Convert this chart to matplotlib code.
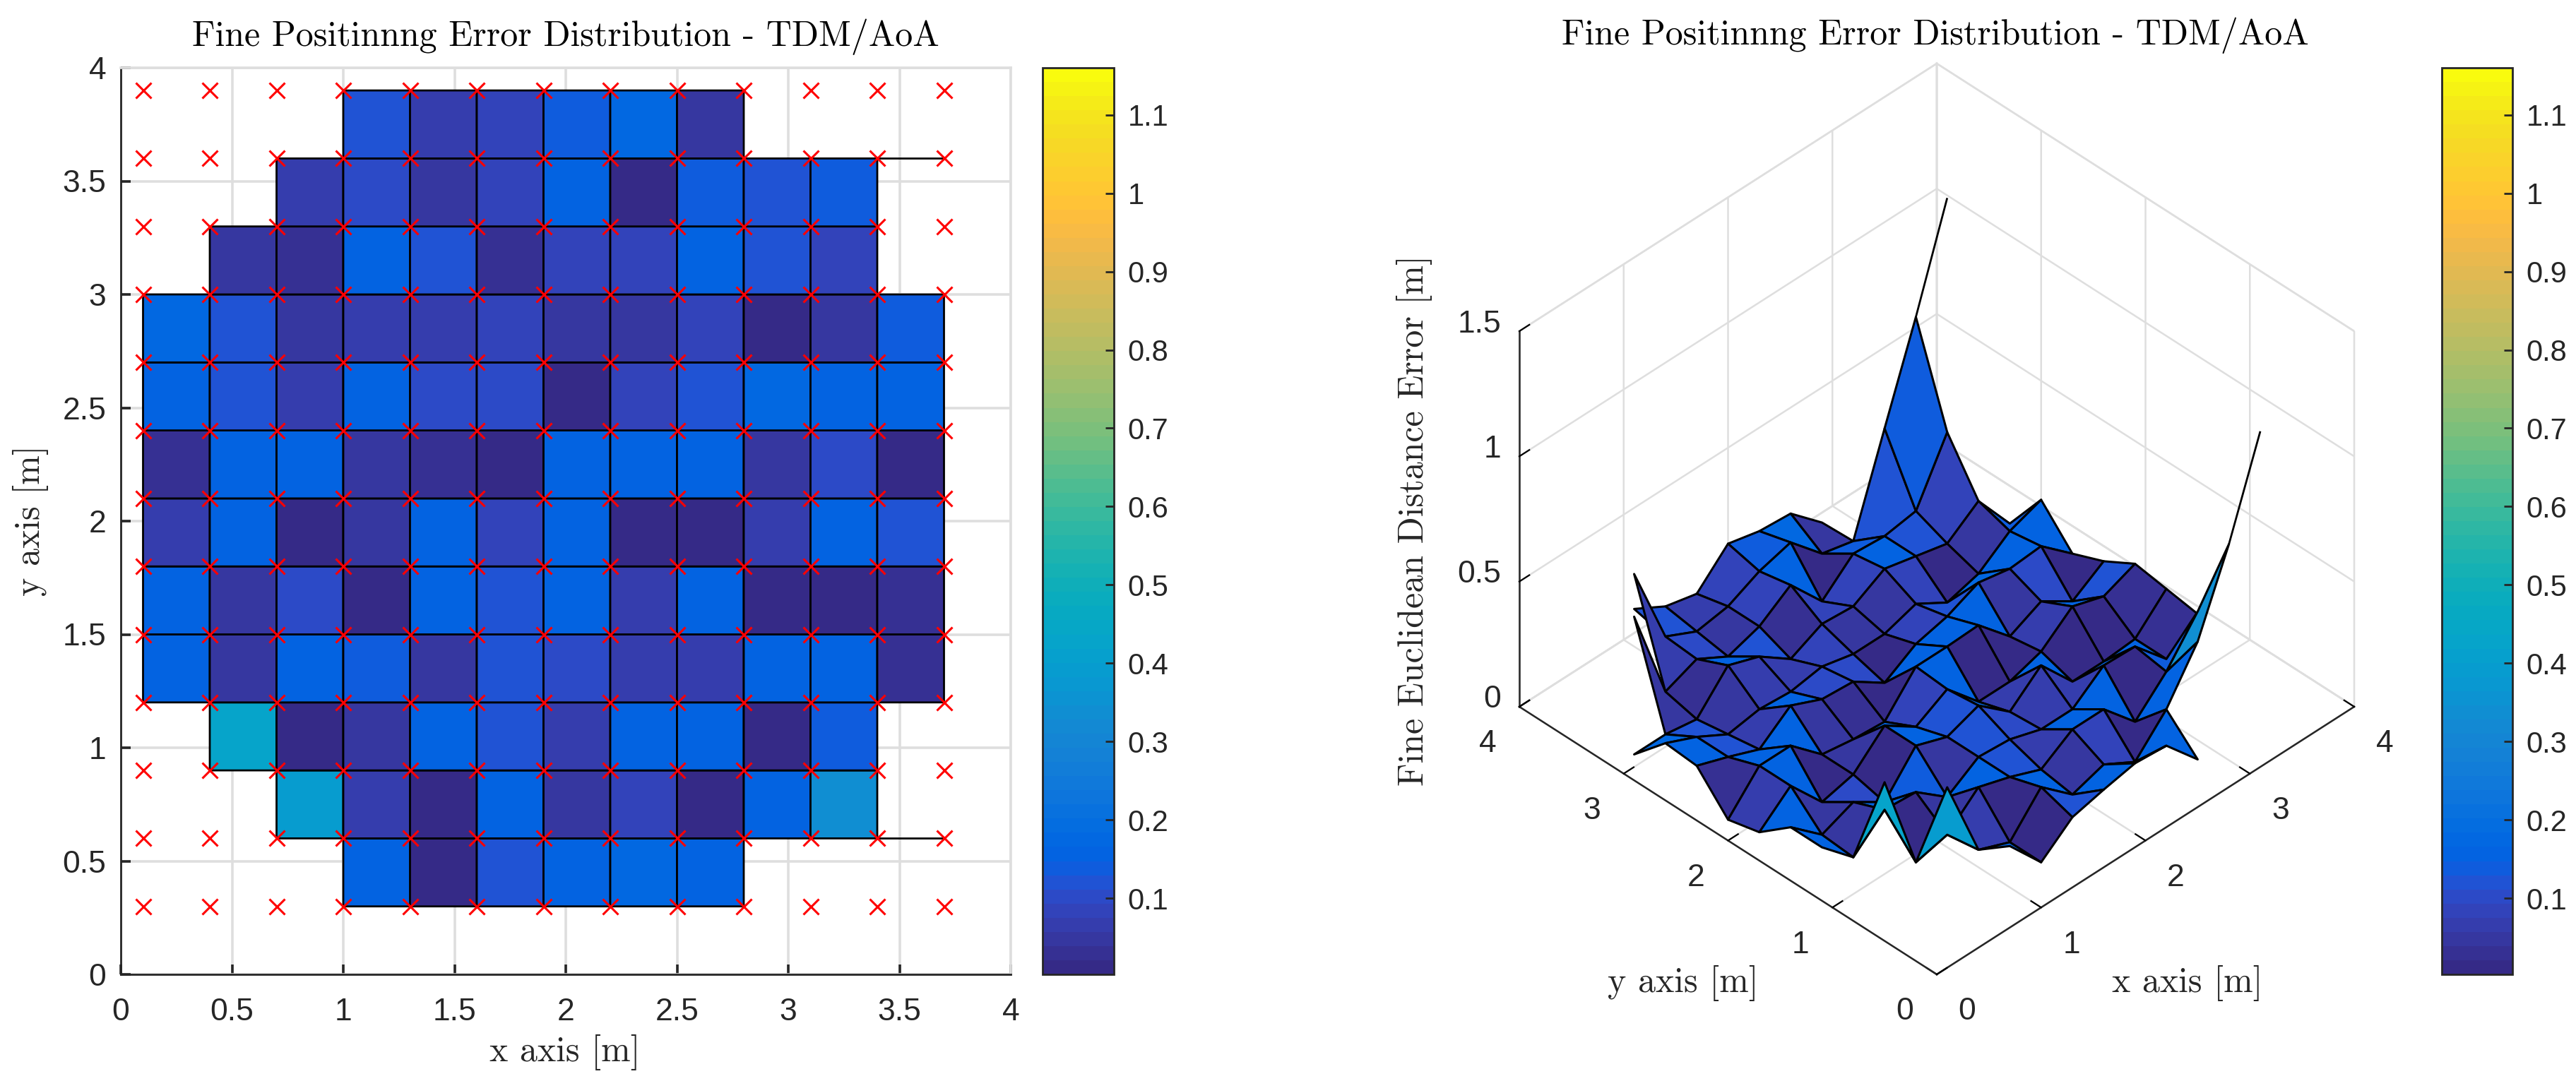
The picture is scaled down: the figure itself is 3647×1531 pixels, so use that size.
import numpy as np
import matplotlib
matplotlib.use('Agg')
import matplotlib.pyplot as plt
from matplotlib.colors import ListedColormap, Normalize
from matplotlib.cm import ScalarMappable
from mpl_toolkits.mplot3d import proj3d
from mpl_toolkits.mplot3d.art3d import Poly3DCollection, Line3DCollection

plt.rcParams['font.family'] = ['Liberation Sans', 'DejaVu Sans']
plt.rcParams['axes.formatter.use_mathtext'] = True

W, H = 3647, 1531
DARK = '#262626'
GRID = '#dedede'
n = np.nan

# measurement points
x_grid = [0.1, 0.4, 0.7, 1.0, 1.3, 1.6, 1.9, 2.2, 2.5, 2.8, 3.1, 3.4, 3.7]
y_grid = [0.3, 0.6, 0.9, 1.2, 1.5, 1.8, 2.1, 2.4, 2.7, 3.0, 3.3, 3.6, 3.9]

# error per point, one row per y_grid value
err_y03 = [n, n, n, .165, .02, .12, .15, .175, .165, .03, n, n, n]
err_y06 = [n, n, .40, .07, .02, .16, .05, .09, .02, .15, .34, .65, 1.02]
err_y09 = [n, .42, .02, .05, .16, .12, .07, .15, .15, .02, .14, .30, n]
err_y12 = [.16, .04, .15, .14, .04, .12, .11, .07, .07, .165, .16, .03, .13]
err_y15 = [.16, .05, .10, .02, .165, .12, .165, .06, .165, .02, .02, .03, .15]
err_y18 = [.06, .165, .02, .05, .165, .08, .15, .02, .02, .06, .16, .12, .17]
err_y21 = [.03, .165, .165, .05, .03, .02, .16, .16, .165, .04, .10, .02, .10]
err_y24 = [.165, .12, .07, .165, .11, .10, .015, .09, .12, .175, .15, .16, .05]
err_y27 = [.175, .12, .05, .07, .06, .08, .05, .05, .09, .015, .05, .14, .185]
err_y30 = [.05, .05, .03, .165, .12, .03, .09, .08, .15, .12, .09, .18, .01]
err_y33 = [n, .44, .06, .11, .04, .08, .165, .02, .13, .12, .14, .375, n]
err_y36 = [n, n, .45, .12, .06, .08, .14, .175, .05, .02, .39, .755, 1.15]
err_y39 = [n, n, n, .15, .08, .05, .17, .14, .13, .014, n, n, n]

clim = (0.003, 1.16)
xy_ticks = [0, 0.5, 1, 1.5, 2, 2.5, 3, 3.5, 4]
xy_ticklabels = ['0', '0.5', '1', '1.5', '2', '2.5', '3', '3.5', '4']
cbar_ticks = [0.1, 0.2, 0.3, 0.4, 0.5, 0.6, 0.7, 0.8, 0.9, 1, 1.1]
cbar_ticklabels = ['0.1', '0.2', '0.3', '0.4', '0.5', '0.6', '0.7', '0.8', '0.9', '1', '1.1']
floor_ticks = [0, 1, 2, 3, 4]
z_ticks = [0, 0.5, 1, 1.5]
z_ticklabels = ['0', '0.5', '1', '1.5']

title = 'Fine Positinnng Error Distribution - TDM/AoA'

# parula, 64 levels
parula = [
    [.2081, .1663, .5292], [.2116, .1898, .5777], [.2123, .2138, .6270], [.2081, .2386, .6771],
    [.1959, .2645, .7279], [.1707, .2919, .7792], [.1253, .3242, .8303], [.0591, .3598, .8683],
    [.0117, .3875, .8820], [.0060, .4086, .8828], [.0165, .4266, .8786], [.0329, .4430, .8720],
    [.0498, .4586, .8641], [.0629, .4737, .8554], [.0723, .4887, .8467], [.0779, .5040, .8384],
    [.0793, .5200, .8312], [.0749, .5375, .8263], [.0641, .5570, .8240], [.0488, .5772, .8228],
    [.0343, .5966, .8199], [.0265, .6137, .8135], [.0239, .6287, .8038], [.0231, .6418, .7913],
    [.0228, .6535, .7768], [.0267, .6642, .7607], [.0384, .6743, .7436], [.0590, .6838, .7254],
    [.0843, .6928, .7062], [.1133, .7015, .6859], [.1453, .7098, .6646], [.1801, .7177, .6424],
    [.2178, .7250, .6193], [.2586, .7317, .5954], [.3022, .7376, .5712], [.3482, .7424, .5473],
    [.3953, .7459, .5244], [.4420, .7481, .5033], [.4871, .7491, .4840], [.5300, .7491, .4661],
    [.5709, .7485, .4494], [.6099, .7473, .4337], [.6473, .7456, .4188], [.6834, .7435, .4044],
    [.7184, .7411, .3905], [.7525, .7384, .3768], [.7858, .7356, .3633], [.8185, .7327, .3498],
    [.8507, .7299, .3360], [.8824, .7274, .3217], [.9139, .7258, .3063], [.9450, .7261, .2886],
    [.9739, .7314, .2666], [.9938, .7455, .2403], [.9990, .7653, .2164], [.9955, .7861, .1967],
    [.9880, .8066, .1794], [.9789, .8271, .1633], [.9697, .8481, .1475], [.9626, .8705, .1309],
    [.9589, .8949, .1132], [.9598, .9218, .0948], [.9661, .9514, .0755], [.9763, .9831, .0538],
]

TICK_FS = 32
CBAR_FS = 30
SERIF_FS = 36


def px_box(left, top, right, bottom):
    # axes rectangle from picture pixels
    return [left / W, 1 - bottom / H, (right - left) / W, (bottom - top) / H]


def serif_text(fig, px, py, s, rotation=0):
    fig.text(px / W, 1 - py / H, s, family='cmr10', fontsize=SERIF_FS, color=DARK if s != title else 'black',
             ha='center', va='center', rotation=rotation)


def add_colorbar(fig, box):
    cax = fig.add_axes(box)
    cb = fig.colorbar(ScalarMappable(norm, cmap), cax=cax)
    cb.set_ticks(cbar_ticks, labels=cbar_ticklabels)
    cb.ax.tick_params(direction='in', length=9, width=2, color=DARK, labelcolor=DARK,
                      labelsize=CBAR_FS, pad=14, which='major')
    cb.ax.minorticks_off()
    cb.outline.set_edgecolor(DARK)
    cb.outline.set_linewidth(2)


def find_stubs():
    # grid edges between two measured points with no cell on either side
    stubs = []
    for j in range(len(Y)):
        for i in range(len(X) - 1):
            if np.isnan(Z[j, i]) or np.isnan(Z[j, i + 1]):
                continue
            below = j > 0 and cell_ok[j - 1, i]
            above = j < len(Y) - 1 and cell_ok[j, i]
            if not below and not above:
                stubs.append((j, i))
    return stubs


Z = np.array([err_y03, err_y06, err_y09, err_y12, err_y15, err_y18, err_y21,
              err_y24, err_y27, err_y30, err_y33, err_y36, err_y39])
X = np.array(x_grid)
Y = np.array(y_grid)
cmap = ListedColormap(parula)
norm = Normalize(*clim)

# a cell only exists where all four corners were measured, colour from lower left corner
cell_ok = ~(np.isnan(Z[:-1, :-1]) | np.isnan(Z[1:, :-1]) | np.isnan(Z[:-1, 1:]) | np.isnan(Z[1:, 1:]))
C = np.ma.masked_where(~cell_ok, Z[:-1, :-1])
stubs = find_stubs()

fig = plt.figure(figsize=(W / 100, H / 100), dpi=100)

# --- top view ---
ax = fig.add_axes(px_box(171, 96, 1431, 1380))
ax.set_axisbelow(True)
ax.grid(True, color=GRID, linewidth=2.6)
ax.pcolor(X, Y, C, cmap=cmap, norm=norm, edgecolors='black', linewidth=2)
for j, i in stubs:
    ax.plot(X[i:i + 2], Y[[j, j]], color='black', linewidth=2)
gx, gy = np.meshgrid(X, Y)
ax.plot(gx.ravel(), gy.ravel(), linestyle='none', marker='x', color='red',
        markersize=16, markeredgewidth=2.2, clip_on=False, zorder=5)
ax.set_xlim(0, 4)
ax.set_ylim(0, 4)
ax.set_xticks(xy_ticks, xy_ticklabels)
ax.set_yticks(xy_ticks, xy_ticklabels)
ax.tick_params(direction='in', length=10, width=2.6, color=DARK, labelcolor=DARK, labelsize=TICK_FS)
ax.tick_params(axis='x', pad=24)
ax.tick_params(axis='y', pad=15)
for side in ['left', 'bottom']:
    ax.spines[side].set_color(DARK)
    ax.spines[side].set_linewidth(2)
for side in ['top', 'right']:
    ax.spines[side].set_color(GRID)
    ax.spines[side].set_linewidth(2.6)
add_colorbar(fig, px_box(1476, 96, 1577, 1380))
serif_text(fig, 801, 52, title)
serif_text(fig, 800, 1490, 'x axis [m]')
serif_text(fig, 43, 737, 'y axis [m]', rotation=90)

# --- 3D view ---
ax3 = fig.add_axes([0.6, 0.05, 0.3, 0.7], projection='3d', proj_type='ortho')
ax3.view_init(elev=39.9, azim=-135)
ax3.set_box_aspect((1, 1, 0.8295))
ax3.set_xlim(0, 4, view_margin=0)
ax3.set_ylim(0, 4, view_margin=0)
ax3.set_zlim(0, 1.5, view_margin=0)
ax3.set_xticks(floor_ticks)
ax3.set_yticks(floor_ticks)
ax3.set_zticks(z_ticks)
ax3.set_xticklabels([])
ax3.set_yticklabels([])
ax3.set_zticklabels([])
ax3.patch.set_alpha(0)
for axis in [ax3.xaxis, ax3.yaxis, ax3.zaxis]:
    axis.set_pane_color((1, 1, 1, 1))
    axis.pane.set_edgecolor(GRID)
    axis.pane.set_linewidth(1.8)
    axis.line.set_color(DARK)
    axis.line.set_linewidth(1.8)
    axis._axinfo['grid'].update(color=GRID, linewidth=1.8)
    axis._axinfo['tick'].update(inward_factor=0, outward_factor=0.3, color=DARK)
    axis._axinfo['tick']['linewidth'] = {True: 1.6, False: 1.0}

verts, faces = [], []
for j in range(len(Y) - 1):
    for i in range(len(X) - 1):
        if cell_ok[j, i]:
            verts.append([(X[i], Y[j], Z[j, i]), (X[i + 1], Y[j], Z[j, i + 1]),
                          (X[i + 1], Y[j + 1], Z[j + 1, i + 1]), (X[i], Y[j + 1], Z[j + 1, i])])
            faces.append(cmap(norm(Z[j, i])))
ax3.add_collection3d(Poly3DCollection(verts, facecolors=faces, edgecolors='black', linewidths=2.2))
stub_lines = [[(X[i], Y[j], Z[j, i]), (X[i + 1], Y[j], Z[j, i + 1])] for j, i in stubs]
ax3.add_collection3d(Line3DCollection(stub_lines, colors='black', linewidths=2))


def corner_px(a, px, py, pz):
    # data point to figure pixels
    u, v, _ = proj3d.proj_transform(px, py, pz, a.get_proj())
    return a.transData.transform((u, v))


# fit the 3D box onto the reference corners
origin_target = np.array([2742, H - 1380])
right_target = np.array([3333, H - 1001])
for _ in range(3):
    fig.canvas.draw()
    p0 = corner_px(ax3, 0, 0, 0)
    p1 = corner_px(ax3, 4, 0, 0)
    scale = (right_target[0] - origin_target[0]) / (p1[0] - p0[0])
    bb = ax3.get_position(original=False)
    side = bb.width * W * scale
    cx = bb.x0 * W + bb.width * W / 2
    cy = bb.y0 * H + bb.height * H / 2
    cx += origin_target[0] - (cx + (p0[0] - cx) * scale)
    cy += origin_target[1] - (cy + (p0[1] - cy) * scale)
    ax3.set_position([(cx - side / 2) / W, (cy - side / 2) / H, side / W, side / H])
fig.canvas.draw()

# tick labels sit at a fixed screen offset from their axis point
for t in floor_ticks:
    ax3.annotate(str(t), corner_px(ax3, t, 0, 0), xycoords='figure pixels', xytext=(43, -53),
                 textcoords='offset pixels', ha='center', va='center', fontsize=TICK_FS, color=DARK,
                 annotation_clip=False)
    ax3.annotate(str(t), corner_px(ax3, 0, t, 0), xycoords='figure pixels', xytext=(-45, -53),
                 textcoords='offset pixels', ha='center', va='center', fontsize=TICK_FS, color=DARK,
                 annotation_clip=False)
for t, s in zip(z_ticks, z_ticklabels):
    ax3.annotate(s, corner_px(ax3, 0, 4, t), xycoords='figure pixels', xytext=(-26, 10),
                 textcoords='offset pixels', ha='right', va='center', fontsize=TICK_FS, color=DARK,
                 annotation_clip=False)

add_colorbar(fig, px_box(3457, 96, 3557, 1380))
serif_text(fig, 2740, 50, title)
serif_text(fig, 3097, 1392, 'x axis [m]')
serif_text(fig, 2383, 1392, 'y axis [m]')
serif_text(fig, 2002, 737, 'Fine Euclidean Distance Error [m]', rotation=90)

fig.savefig('out.png', dpi=100)
